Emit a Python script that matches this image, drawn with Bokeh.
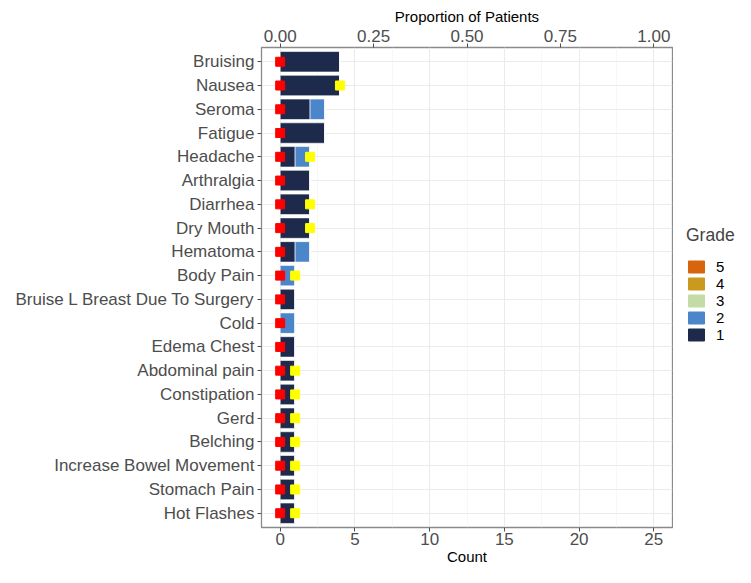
from bokeh.plotting import figure
from bokeh.layouts import row
from bokeh.models import (FactorRange, Range1d, LinearAxis, FixedTicker, NumeralTickFormatter,
                          ColumnDataSource, Legend, LegendItem)
from bokeh.embed import file_html
from bokeh.resources import INLINE

categories = ["Bruising", "Nausea", "Seroma", "Fatigue", "Headache", "Arthralgia", "Diarrhea",
              "Dry Mouth", "Hematoma", "Body Pain", "Bruise L Breast Due To Surgery", "Cold",
              "Edema Chest", "Abdominal pain", "Constipation", "Gerd", "Belching",
              "Increase Bowel Movement", "Stomach Pain", "Hot Flashes"]
grade1 = [4, 4, 2, 3, 1, 2, 2, 2, 1, 0, 1, 0, 1, 1, 1, 1, 1, 1, 1, 1]
grade2 = [0, 0, 1, 0, 1, 0, 0, 0, 1, 1, 0, 1, 0, 0, 0, 0, 0, 0, 0, 0]
grade3 = [0] * 20
grade4 = [0] * 20
grade5 = [0] * 20
red_x = [0] * 20
yellow_x = [float("nan"), 4, float("nan"), float("nan"), 2, float("nan"), 2, 2, float("nan"), 1,
            float("nan"), float("nan"), float("nan"), 1, 1, 1, 1, 1, 1, 1]
grade_labels = ["1", "2", "3", "4", "5"]
grade_colors = ["#1e2a4c", "#4a86c9", "#c4dba6", "#c99a1d", "#d8650e"]
count_ticks = [0, 5, 10, 15, 20, 25]
count_minor = [2.5, 7.5, 12.5, 17.5, 22.5]
prop_ticks = [0, 0.25, 0.5, 0.75, 1.0]
n_patients = 25

FONT = "Liberation Sans"

src = ColumnDataSource(dict(cat=categories, g1=grade1, g2=grade2, g3=grade3, g4=grade4, g5=grade5,
                            red=red_x, yel=yellow_x))

yr = FactorRange(factors=list(reversed(categories)), range_padding=0.01)
p = figure(width=673, height=567, y_range=yr, x_range=Range1d(-1.25, 26.25),
           output_backend="svg", toolbar_location=None,
           min_border_left=261, min_border_right=1, min_border_top=47, min_border_bottom=30)
p.extra_x_ranges = {"prop": Range1d(-1.25 / n_patients, 26.25 / n_patients)}

renderers = p.hbar_stack(["g1", "g2", "g3", "g4", "g5"], y="cat", height=0.86, source=src,
                         color=grade_colors, line_color="#ffffff", line_width=0.6)

p.scatter(x="red", y="cat", source=src, marker="square", size=9, color="#ff0000")
p.scatter(x="yel", y="cat", source=src, marker="square", size=9, color="#ffff00")

# axes
p.xaxis.ticker = FixedTicker(ticks=count_ticks, minor_ticks=count_minor)
p.xaxis.axis_label = "Count"
top = LinearAxis(x_range_name="prop", ticker=FixedTicker(ticks=prop_ticks),
                 formatter=NumeralTickFormatter(format="0.00"), axis_label="Proportion of Patients")
p.add_layout(top, "above")

for ax in p.xaxis + p.yaxis:
    ax.axis_line_color = None
    ax.major_tick_line_color = "#4d4d4d"
    ax.major_tick_out = 4
    ax.major_tick_in = 0
    ax.minor_tick_line_color = None
    ax.major_label_text_font = FONT
    ax.major_label_text_font_size = "17px"
    ax.major_label_text_color = "#4d4d4d"
    ax.axis_label_text_font = FONT
    ax.axis_label_text_font_size = "15px"
    ax.axis_label_text_font_style = "normal"
    ax.axis_label_text_color = "#000000"
    ax.major_label_standoff = 1
    ax.axis_label_standoff = 0

top.major_label_standoff = 2
top.axis_label_standoff = 2
p.yaxis.major_label_standoff = 3

# grid
p.xgrid.ticker = FixedTicker(ticks=count_ticks, minor_ticks=count_minor)
p.xgrid.grid_line_color = "#ebebeb"
p.xgrid.grid_line_width = 1.1
p.xgrid.minor_grid_line_color = "#f2f2f2"
p.xgrid.minor_grid_line_width = 0.6
p.ygrid.grid_line_color = "#ebebeb"
p.ygrid.grid_line_width = 1.1
p.outline_line_color = "#8a8a8a"
p.outline_line_width = 1.3
p.background_fill_color = "#ffffff"

# legend panel (separate small figure to the right), 5 at top, 1 at bottom
lg = figure(width=62, height=567, x_range=Range1d(0, 1), y_range=Range1d(0, 1),
            output_backend="svg", toolbar_location=None, x_axis_type=None, y_axis_type=None,
            min_border_left=0, min_border_right=0, min_border_top=0, min_border_bottom=0)
lg.outline_line_color = None
lg.xgrid.visible = False
lg.ygrid.visible = False
dummy = []
for lab, col in zip(grade_labels, grade_colors):
    dummy.append(lg.hbar(y=[5], left=[5], right=[6], height=0.1, color=col))
items = [LegendItem(label=grade_labels[i], renderers=[dummy[i]]) for i in range(4, -1, -1)]
legend = Legend(items=items, title="Grade", location=(13, 184), margin=0, padding=0, spacing=0,
                glyph_width=20, glyph_height=15, label_height=15, label_standoff=10,
                label_text_font=FONT, label_text_font_size="15px", label_text_color="#000000",
                title_text_font=FONT, title_text_font_size="17.5px", title_text_font_style="normal",
                title_standoff=12, border_line_color=None, background_fill_alpha=0)
lg.add_layout(legend, "center")

layout = row(p, lg)
open("out.html", "w").write(file_html(layout, INLINE))
